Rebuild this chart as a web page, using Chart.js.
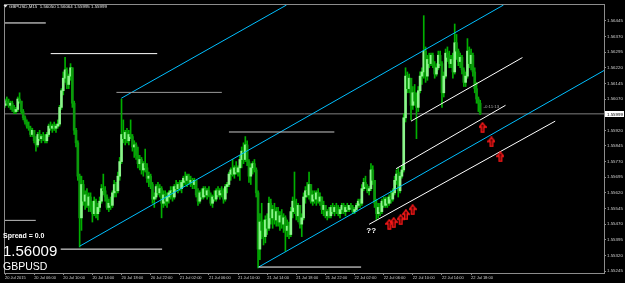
<!DOCTYPE html>
<html>
<head>
<meta charset="utf-8">
<script src="https://cdn.jsdelivr.net/npm/chart.js@4.4.0/dist/chart.umd.min.js"></script>
<style>
  html, body { margin: 0; padding: 0; background: #000; }
  #wrap { width: 625px; height: 283px; }
</style>
</head>
<body>
<div id="wrap"><canvas id="chart" width="625" height="283"></canvas></div>
<script>
const symbol = 'GBPUSD';
const timeframe = 'M15';
const spread = '0.0';
const bidValue = 1.56009;

// M15 bars, 20 Jul 02:00 .. 22 Jul 19:15
const open = [
  1.5604,1.5606,1.5605,1.5604,1.5605,1.5602,1.5601,1.5602,1.5607,1.5606,
  1.5601,1.5598,1.5596,1.5594,1.5593,1.5590,1.5592,1.5587,1.5585,1.5590,
  1.5588,1.5589,1.5588,1.5587,1.5590,1.5594,1.5593,1.5594,1.5593,1.5594,
  1.5595,1.5603,1.5611,1.5617,1.5621,1.5614,1.5618,1.5622,1.5605,1.5592,
  1.5586,1.5570,1.5550,1.5566,1.5558,1.5561,1.5556,1.5560,1.5555,1.5552,
  1.5558,1.5552,1.5555,1.5558,1.5564,1.5563,1.5560,1.5555,1.5557,1.5556,
  1.5562,1.5566,1.5563,1.5570,1.5577,1.5590,1.5588,1.5591,1.5587,1.5590,
  1.5589,1.5584,1.5585,1.5580,1.5576,1.5578,1.5573,1.5576,1.5574,1.5569,
  1.5570,1.5566,1.5559,1.5560,1.5565,1.5562,1.5564,1.5557,1.5561,1.5558,
  1.5560,1.5562,1.5563,1.5560,1.5565,1.5564,1.5566,1.5564,1.5567,1.5569,
  1.5568,1.5570,1.5567,1.5568,1.5566,1.5568,1.5561,1.5558,1.5562,1.5560,
  1.5564,1.5561,1.5563,1.5561,1.5557,1.5560,1.5559,1.5563,1.5561,1.5563,
  1.5562,1.5559,1.5565,1.5566,1.5571,1.5573,1.5571,1.5574,1.5572,1.5574,
  1.5578,1.5582,1.5578,1.5585,1.5577,1.5570,1.5574,1.5576,1.5573,1.5562,
  1.5535,1.5548,1.5544,1.5541,1.5549,1.5545,1.5557,1.5550,1.5554,1.5549,
  1.5553,1.5548,1.5551,1.5547,1.5550,1.5544,1.5546,1.5542,1.5553,1.5558,
  1.5555,1.5551,1.5556,1.5547,1.5550,1.5560,1.5563,1.5561,1.5566,1.5558,
  1.5561,1.5559,1.5562,1.5558,1.5560,1.5554,1.5556,1.5551,1.5553,1.5551,
  1.5555,1.5553,1.5555,1.5553,1.5552,1.5554,1.5556,1.5553,1.5555,1.5554,
  1.5556,1.5555,1.5553,1.5554,1.5556,1.5558,1.5557,1.5564,1.5567,1.5565,
  1.5563,1.5564,1.5573,1.5568,1.5557,1.5552,1.5555,1.5553,1.5558,1.5556,
  1.5559,1.5557,1.5560,1.5559,1.5562,1.5568,1.5571,1.5563,1.5570,1.5573,
  1.5598,1.5618,1.5612,1.5617,1.5604,1.5610,1.5606,1.5603,1.5611,1.5618,
  1.5620,1.5630,1.5618,1.5626,1.5624,1.5628,1.5623,1.5619,1.5622,1.5628,
  1.5624,1.5610,1.5618,1.5629,1.5627,1.5624,1.5626,1.5620,1.5634,1.5630,
  1.5625,1.5627,1.5621,1.5615,1.5618,1.5630,1.5624,1.5628,1.5620,1.5612,
  1.5607,1.56050
];
const high = [
  1.5607,1.5608,1.5607,1.5606,1.5606,1.5604,1.5603,1.5608,1.5610,1.5606,
  1.5602,1.5599,1.5597,1.5596,1.5594,1.5593,1.5592,1.5589,1.5591,1.5592,
  1.5590,1.5591,1.5590,1.5591,1.5595,1.5596,1.5595,1.5596,1.5595,1.5597,
  1.5604,1.5612,1.5620,1.5627,1.5622,1.5619,1.5624,1.5622,1.5606,1.5593,
  1.5587,1.5571,1.5570,1.5568,1.5563,1.5564,1.5562,1.5562,1.5558,1.5560,
  1.5559,1.5557,1.5560,1.5566,1.5571,1.5565,1.5561,1.5559,1.5560,1.5563,
  1.5568,1.5567,1.5572,1.5579,1.5607,1.5597,1.5592,1.5593,1.5592,1.5597,
  1.5590,1.5587,1.5586,1.5584,1.5580,1.5579,1.5577,1.5583,1.5576,1.5572,
  1.5571,1.5567,1.5562,1.5566,1.5567,1.5566,1.5565,1.5563,1.5563,1.5562,
  1.5563,1.5565,1.5565,1.5566,1.5568,1.5567,1.5568,1.5568,1.5570,1.5572,
  1.5571,1.5571,1.5570,1.5569,1.5569,1.5568,1.5564,1.5563,1.5564,1.5565,
  1.5565,1.5564,1.5565,1.5562,1.5561,1.5563,1.5564,1.5565,1.5564,1.5565,
  1.5564,1.5566,1.5567,1.5572,1.5574,1.5578,1.5575,1.5577,1.5575,1.5580,
  1.5584,1.5586,1.5589,1.5587,1.5578,1.5576,1.5577,1.5578,1.5574,1.5563,
  1.5552,1.5557,1.5549,1.5551,1.5552,1.5560,1.5559,1.5556,1.5557,1.5555,
  1.5555,1.5553,1.5554,1.5552,1.5551,1.5549,1.5548,1.5555,1.5560,1.5572,
  1.5559,1.5557,1.5556,1.5552,1.5562,1.5565,1.5567,1.5572,1.5566,1.5563,
  1.5563,1.5563,1.5564,1.5562,1.5560,1.5558,1.5556,1.5554,1.5555,1.5556,
  1.5557,1.5556,1.5557,1.5556,1.5555,1.5557,1.5557,1.5556,1.5557,1.5556,
  1.5557,1.5556,1.5555,1.5557,1.5559,1.5559,1.5566,1.5569,1.5570,1.5566,
  1.5565,1.5576,1.5575,1.5568,1.5559,1.5557,1.5557,1.5559,1.5560,1.5560,
  1.5560,1.5561,1.5563,1.5564,1.5570,1.5573,1.5574,1.5572,1.5575,1.5600,
  1.5622,1.5620,1.5619,1.5617,1.5613,1.5614,1.5610,1.5613,1.5620,1.5622,
  1.5647,1.5632,1.5628,1.5629,1.5629,1.5629,1.5625,1.5624,1.5630,1.5630,
  1.5625,1.5620,1.5631,1.5632,1.5630,1.5628,1.5629,1.5643,1.5638,1.5631,
  1.5629,1.5628,1.5622,1.5620,1.5636,1.5632,1.5631,1.5629,1.5622,1.5615,
  1.5608,1.56064
];
const low = [
  1.5603,1.5604,1.5603,1.5602,1.5601,1.5600,1.5600,1.5601,1.5605,1.5600,
  1.5597,1.5595,1.5593,1.5592,1.5589,1.5589,1.5586,1.5582,1.5584,1.5587,
  1.5586,1.5587,1.5586,1.5586,1.5589,1.5592,1.5591,1.5592,1.5591,1.5593,
  1.5594,1.5602,1.5609,1.5615,1.5612,1.5612,1.5616,1.5603,1.5590,1.5584,
  1.5568,1.5536,1.5544,1.5556,1.5554,1.5555,1.5553,1.5553,1.5548,1.5551,
  1.5550,1.5549,1.5553,1.5557,1.5561,1.5558,1.5554,1.5553,1.5554,1.5555,
  1.5560,1.5560,1.5562,1.5568,1.5576,1.5586,1.5585,1.5586,1.5585,1.5588,
  1.5582,1.5579,1.5578,1.5574,1.5573,1.5571,1.5570,1.5572,1.5567,1.5565,
  1.5564,1.5557,1.5555,1.5559,1.5561,1.5560,1.5550,1.5555,1.5556,1.5555,
  1.5557,1.5559,1.5558,1.5559,1.5563,1.5562,1.5563,1.5562,1.5565,1.5566,
  1.5565,1.5566,1.5565,1.5564,1.5564,1.5560,1.5556,1.5557,1.5559,1.5559,
  1.5560,1.5559,1.5560,1.5556,1.5555,1.5558,1.5558,1.5560,1.5559,1.5560,
  1.5557,1.5558,1.5562,1.5565,1.5568,1.5570,1.5569,1.5571,1.5570,1.5568,
  1.5574,1.5576,1.5577,1.5575,1.5567,1.5566,1.5571,1.5572,1.5560,1.5526,
  1.5530,1.5540,1.5537,1.5538,1.5542,1.5544,1.5547,1.5545,1.5547,1.5546,
  1.5546,1.5544,1.5545,1.5543,1.5534,1.5541,1.5540,1.5541,1.5550,1.5552,
  1.5549,1.5548,1.5545,1.5541,1.5549,1.5557,1.5560,1.5559,1.5557,1.5556,
  1.5557,1.5556,1.5557,1.5556,1.5552,1.5551,1.5550,1.5549,1.5550,1.5550,
  1.5552,1.5551,1.5552,1.5551,1.5550,1.5552,1.5552,1.5551,1.5553,1.5553,
  1.5554,1.5552,1.5552,1.5553,1.5555,1.5555,1.5556,1.5563,1.5564,1.5562,
  1.5561,1.5563,1.5566,1.5555,1.5549,1.5550,1.5551,1.5552,1.5555,1.5555,
  1.5555,1.5556,1.5557,1.5558,1.5561,1.5566,1.5560,1.5562,1.5569,1.5572,
  1.5596,1.5610,1.5610,1.5597,1.5602,1.5604,1.5588,1.5601,1.5610,1.5614,
  1.5617,1.5615,1.5616,1.5622,1.5623,1.5622,1.5617,1.5618,1.5621,1.5623,
  1.5603,1.5608,1.5617,1.5625,1.5622,1.5622,1.5617,1.5619,1.5626,1.5623,
  1.5622,1.5619,1.5613,1.5613,1.5617,1.5622,1.5621,1.5618,1.5610,1.5605,
  1.5601,1.55995
];
const close = [
  1.5606,1.5605,1.5604,1.5605,1.5602,1.5601,1.5602,1.5607,1.5606,1.5601,
  1.5598,1.5596,1.5594,1.5593,1.5590,1.5592,1.5587,1.5585,1.5590,1.5588,
  1.5589,1.5588,1.5587,1.5590,1.5594,1.5593,1.5594,1.5593,1.5594,1.5595,
  1.5603,1.5611,1.5617,1.5621,1.5614,1.5618,1.5622,1.5605,1.5592,1.5586,
  1.5570,1.5550,1.5566,1.5558,1.5561,1.5556,1.5560,1.5555,1.5552,1.5558,
  1.5552,1.5555,1.5558,1.5564,1.5563,1.5560,1.5555,1.5557,1.5556,1.5562,
  1.5566,1.5563,1.5570,1.5577,1.5590,1.5588,1.5591,1.5587,1.5590,1.5589,
  1.5584,1.5585,1.5580,1.5576,1.5578,1.5573,1.5576,1.5574,1.5569,1.5570,
  1.5566,1.5559,1.5560,1.5565,1.5562,1.5564,1.5557,1.5561,1.5558,1.5560,
  1.5562,1.5563,1.5560,1.5565,1.5564,1.5566,1.5564,1.5567,1.5569,1.5568,
  1.5570,1.5567,1.5568,1.5566,1.5568,1.5561,1.5558,1.5562,1.5560,1.5564,
  1.5561,1.5563,1.5561,1.5557,1.5560,1.5559,1.5563,1.5561,1.5563,1.5562,
  1.5559,1.5565,1.5566,1.5571,1.5573,1.5571,1.5574,1.5572,1.5574,1.5578,
  1.5582,1.5578,1.5585,1.5577,1.5570,1.5574,1.5576,1.5573,1.5562,1.5535,
  1.5548,1.5544,1.5541,1.5549,1.5545,1.5557,1.5550,1.5554,1.5549,1.5553,
  1.5548,1.5551,1.5547,1.5550,1.5544,1.5546,1.5542,1.5553,1.5558,1.5555,
  1.5551,1.5556,1.5547,1.5550,1.5560,1.5563,1.5561,1.5566,1.5558,1.5561,
  1.5559,1.5562,1.5558,1.5560,1.5554,1.5556,1.5551,1.5553,1.5551,1.5555,
  1.5553,1.5555,1.5553,1.5552,1.5554,1.5556,1.5553,1.5555,1.5554,1.5556,
  1.5555,1.5553,1.5554,1.5556,1.5558,1.5557,1.5564,1.5567,1.5565,1.5563,
  1.5564,1.5573,1.5568,1.5557,1.5552,1.5555,1.5553,1.5558,1.5556,1.5559,
  1.5557,1.5560,1.5559,1.5562,1.5568,1.5571,1.5563,1.5570,1.5573,1.5598,
  1.5618,1.5612,1.5617,1.5604,1.5610,1.5606,1.5603,1.5611,1.5618,1.5620,
  1.5630,1.5618,1.5626,1.5624,1.5628,1.5623,1.5619,1.5622,1.5628,1.5624,
  1.5610,1.5618,1.5629,1.5627,1.5624,1.5626,1.5620,1.5634,1.5630,1.5625,
  1.5627,1.5621,1.5615,1.5618,1.5630,1.5624,1.5628,1.5620,1.5612,1.5607,
  1.5605,1.55999
];

const xTickIdx = [0, 16, 32, 48, 64, 80, 96, 112, 128, 144, 160, 176, 192, 208, 224, 240, 256];
const xTickLabels = ['20 Jul 2015', '20 Jul 06:00', '20 Jul 10:00', '20 Jul 14:00', '20 Jul 18:00',
  '20 Jul 22:00', '21 Jul 02:00', '21 Jul 06:00', '21 Jul 10:00', '21 Jul 14:00', '21 Jul 18:00',
  '21 Jul 22:00', '22 Jul 02:00', '22 Jul 06:00', '22 Jul 10:00', '22 Jul 14:00', '22 Jul 18:00'];
const yTickVals = [1.55245, 1.55320, 1.55395, 1.55470, 1.55545, 1.55620, 1.55695, 1.55770, 1.55845,
  1.55920, 1.55995, 1.56070, 1.56145, 1.56220, 1.56295, 1.56370, 1.56445];

// horizontal levels (price, from bar, to bar)
const levelPrice = [1.56435, 1.56288, 1.56102, 1.55912, 1.55488, 1.55350, 1.55264];
const levelFrom = [0, 25.1, 61.2, 123, 0, 30.6, 139.3];
const levelTo = [22.4, 83.6, 119.1, 180.9, 16.9, 86.3, 195.6];
// cyan channel lines
const chanFromX = [63.9, 41, 139.3];
const chanFromP = [1.56074, 1.55364, 1.55264];
const chanToX = [154.6, 273.8, 329];
const chanToP = [1.56521, 1.56521, 1.56207];
// white trend lines
const trendFromX = [223, 214.8, 200];
const trendFromP = [1.55964, 1.55736, 1.55469];
const trendToX = [284.2, 274.9, 302.2];
const trendToP = [1.56269, 1.56040, 1.55964];
// buy arrows
const arrowX = [211.1, 213.5, 217.3, 220.2, 223.9, 262.3, 267.2, 272.1];
const arrowP = [1.55469, 1.55477, 1.55491, 1.55515, 1.55539, 1.55933, 1.55864, 1.55793];

if (high.length !== open.length || low.length !== open.length || close.length !== open.length) {
  throw new Error('length mismatch ' + [open.length, high.length, low.length, close.length].join(','));
}

const BULL = '#8cf58c';
const BEAR = '#0b9a0b';
const WICK = '#00b000';
const CYAN = '#00bfff';
const levelColors = ['#ffffff', '#ffffff', '#9a9a9a', '#c8c8c8', '#c0c0c0', '#ffffff', '#ffffff'];
const FONT = '"Liberation Sans", Arial, sans-serif';

const n = open.length - 1;
const bars = open.map((_, i) => i);

function seg(x1, p1, x2, p2, color, order) {
  return {
    type: 'line',
    data: [{ x: x1, y: p1 }, { x: x2, y: p2 }],
    borderColor: color,
    borderWidth: 1,
    pointRadius: 0,
    tension: 0,
    order: order
  };
}

// hollow red up arrow used as point style
const arrowImg = document.createElement('canvas');
arrowImg.width = 8;
arrowImg.height = 11;
(function () {
  const c = arrowImg.getContext('2d');
  c.strokeStyle = '#ff1a1a';
  c.fillStyle = '#4a0000';
  c.lineWidth = 1.3;
  c.beginPath();
  c.moveTo(4, 0.8);
  c.lineTo(7.3, 5);
  c.lineTo(5.3, 5);
  c.lineTo(5.3, 10.2);
  c.lineTo(2.7, 10.2);
  c.lineTo(2.7, 5);
  c.lineTo(0.7, 5);
  c.closePath();
  c.fill();
  c.stroke();
})();

const datasets = [];
// current price line
datasets.push(seg(0, close[n], 329, close[n], '#7f7f7f', 9));
datasets.push({
  type: 'bar',
  data: bars.map(i => ({ x: i, y: [low[i], high[i]] })),
  backgroundColor: WICK,
  barThickness: 1,
  grouped: false,
  order: 2
});
datasets.push({
  type: 'bar',
  data: bars.map(i => ({ x: i, y: [open[i], close[i]] })),
  backgroundColor: bars.map(i => close[i] >= open[i] ? BULL : BEAR),
  barThickness: 2,
  minBarLength: 1,
  grouped: false,
  order: 1
});
levelPrice.forEach((p, k) => datasets.push(seg(levelFrom[k], p, levelTo[k], p, levelColors[k], -1)));
chanFromX.forEach((x, k) => datasets.push(seg(x, chanFromP[k], chanToX[k], chanToP[k], CYAN, -1)));
trendFromX.forEach((x, k) => datasets.push(seg(x, trendFromP[k], trendToX[k], trendToP[k], '#ffffff', -1)));
datasets.push({
  type: 'line',
  data: arrowX.map((x, k) => ({ x: x, y: arrowP[k] })),
  showLine: false,
  pointStyle: arrowImg,
  pointRadius: 4,
  order: -2
});

const fmt = v => v.toFixed(5);

const overlay = {
  id: 'overlay',
  beforeDraw(chart) {
    const ctx = chart.ctx;
    ctx.save();
    ctx.fillStyle = '#000';
    ctx.fillRect(0, 0, chart.width, chart.height);
    ctx.restore();
  },
  afterDraw(chart) {
    const { ctx, chartArea: a, scales } = chart;
    ctx.save();
    ctx.strokeStyle = '#8c8c8c';
    ctx.lineWidth = 1;
    ctx.strokeRect(a.left - 0.5, a.top - 0.5, a.right - a.left + 1, a.bottom - a.top + 1);

    // header
    ctx.fillStyle = '#e6e6e6';
    ctx.beginPath();
    ctx.moveTo(3.5, 5); ctx.lineTo(7.5, 5); ctx.lineTo(5.5, 7.5); ctx.closePath();
    ctx.fill();
    ctx.font = '4.4px ' + FONT;
    ctx.textBaseline = 'alphabetic';
    ctx.fillText(symbol + ',' + timeframe + '  ' + fmt(open[n]) + ' ' + fmt(high[n]) + ' ' +
      fmt(low[n]) + ' ' + fmt(close[n]), 9, 8);

    // bottom-left info
    ctx.fillStyle = '#ffffff';
    ctx.font = 'bold 7px ' + FONT;
    ctx.fillText('Spread = ' + spread, 3, 237.5);
    ctx.font = '15px ' + FONT;
    ctx.fillText(fmt(bidValue), 3, 256);
    ctx.font = '10.5px ' + FONT;
    ctx.fillText(symbol, 3, 270);

    // question marks and timer
    ctx.font = 'bold 8px ' + FONT;
    ctx.textAlign = 'center';
    ctx.textBaseline = 'middle';
    ctx.fillText('??', scales.x.getPixelForValue(201.1), scales.y.getPixelForValue(1.55436));
    ctx.textAlign = 'left';
    ctx.fillStyle = '#a8a8a8';
    ctx.font = '4.4px ' + FONT;
    ctx.fillText('-0:11:13', scales.x.getPixelForValue(262.8), scales.y.getPixelForValue(1.56035));

    // current price marker
    const py = scales.y.getPixelForValue(close[n]);
    ctx.fillStyle = '#ffffff';
    ctx.fillRect(a.right + 1, Math.round(py) - 3, 19, 6);
    ctx.fillStyle = '#000000';
    ctx.fillText(fmt(close[n]), a.right + 3, py + 0.5);
    ctx.restore();
  }
};

new Chart(document.getElementById('chart'), {
  type: 'bar',
  data: { datasets: datasets },
  options: {
    responsive: false,
    animation: false,
    events: [],
    layout: { padding: { left: 2, top: 3, right: 0, bottom: 0 } },
    plugins: { legend: { display: false }, tooltip: { enabled: false } },
    scales: {
      x: {
        type: 'linear',
        min: 0,
        max: 329,
        offset: false,
        afterFit: s => { s.height = 10; },
        afterBuildTicks: s => { s.ticks = xTickIdx.map(v => ({ value: v })); },
        grid: { display: true, drawOnChartArea: false, offset: false, color: '#8c8c8c', tickLength: 2 },
        border: { color: '#8c8c8c' },
        ticks: {
          autoSkip: false,
          maxRotation: 0,
          align: 'start',
          padding: 0,
          color: '#d0d0d0',
          font: { family: FONT, size: 4 },
          callback: (v, k) => xTickLabels[k]
        }
      },
      y: {
        position: 'right',
        min: 1.552355,
        max: 1.565212,
        afterFit: s => { s.width = 21; },
        afterBuildTicks: s => { s.ticks = yTickVals.map(v => ({ value: v })); },
        grid: { display: true, drawOnChartArea: false, color: '#8c8c8c', tickLength: 2 },
        border: { color: '#8c8c8c' },
        ticks: {
          padding: 1,
          color: '#d0d0d0',
          font: { family: FONT, size: 4.4 },
          callback: v => fmt(v)
        }
      }
    }
  },
  plugins: [overlay]
});
</script>
</body>
</html>
